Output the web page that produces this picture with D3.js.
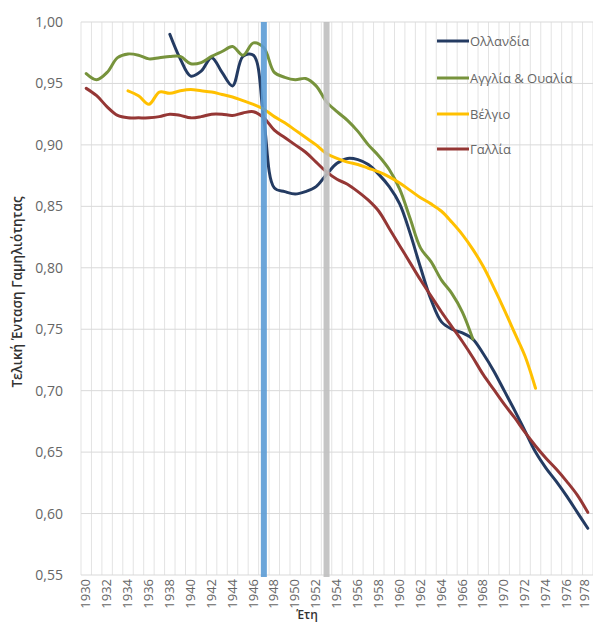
<!DOCTYPE html>
<html><head><meta charset="utf-8">
<script src="https://cdn.jsdelivr.net/npm/d3@7"></script>
<style>body{margin:0;background:#fff;}svg{display:block;font-family:"Open Sans","Noto Sans",sans-serif;}</style>
</head><body>
<script>
const years = [1930,1931,1932,1933,1934,1935,1936,1937,1938,1939,1940,1941,1942,1943,1944,1945,1946,1947,1948,1949,1950,1951,1952,1953,1954,1955,1956,1957,1958,1959,1960,1961,1962,1963,1964,1965,1966,1967,1968,1969,1970,1971,1972,1973,1974,1975,1976,1977,1978];
const xLabels = [1930,1932,1934,1936,1938,1940,1942,1944,1946,1948,1950,1952,1954,1956,1958,1960,1962,1964,1966,1968,1970,1972,1974,1976,1978];
const yTicks = [0.55,0.60,0.65,0.70,0.75,0.80,0.85,0.90,0.95,1.00];
const netherlands = [null,null,null,null,null,null,null,null,
 0.99,0.97,0.956,0.96,0.971,0.959,0.948,0.972,0.973,0.92,
 0.865,0.862,0.86,0.862,0.866,0.876,0.885,0.889,0.888,0.884,
 0.876,0.866,0.852,0.828,0.8,0.774,0.756,0.75,0.747,0.742,
 0.73,0.716,0.7,0.684,0.667,0.65,0.637,0.626,0.614,0.601,0.588];
const englandWales = [0.958,0.953,0.959,0.971,0.974,0.973,0.97,0.971,0.972,0.972,
 0.966,0.967,0.972,0.976,0.98,0.973,0.983,0.979,0.959,0.955,
 0.953,0.954,0.948,0.935,0.927,0.92,0.911,0.9,0.891,0.88,
 0.864,0.84,0.816,0.805,0.79,0.779,0.764,0.742,
 null,null,null,null,null,null,null,null,null,null,null];
const belgium = [null,null,null,null,
 0.944,0.94,0.933,0.943,0.942,0.944,0.945,0.944,0.943,0.941,
 0.939,0.936,0.933,0.929,0.923,0.918,0.912,0.906,0.9,0.893,
 0.889,0.886,0.884,0.881,0.878,0.874,0.869,0.863,0.857,0.852,
 0.846,0.837,0.827,0.815,0.801,0.784,0.766,0.747,0.728,0.702,
 null,null,null,null,null];
const france = [0.946,0.94,0.931,0.924,0.922,0.922,0.922,0.923,0.925,0.924,
 0.922,0.923,0.925,0.925,0.924,0.926,0.927,0.922,0.912,0.906,
 0.9,0.894,0.886,0.878,0.872,0.868,0.862,0.855,0.846,0.832,
 0.818,0.804,0.79,0.777,0.764,0.752,0.74,0.727,0.713,0.701,
 0.689,0.678,0.666,0.655,0.645,0.636,0.626,0.615,0.601];
const seriesNames = ["Ολλανδία","Αγγλία & Ουαλία","Βέλγιο","Γαλλία"];
const seriesColors = ["#243b62","#77933c","#ffc000","#953735"];
const markerYears = [1947,1953];
const markerColors = ["#5b9bd5","#bfbfbf"];

const W=593,H=625;
const svg=d3.select("body").append("svg").attr("width",W).attr("height",H);
const x=d3.scaleBand().domain(years).range([81,593]).padding(0);
const y=d3.scaleLinear().domain([0.55,1]).range([575,22]);
const xc=d=>x(d)+x.bandwidth()/2;

// gridlines
const g=svg.append("g");
g.selectAll("line.v").data(years.concat([null])).join("line")
 .attr("x1",(d,i)=>81+i*x.bandwidth()).attr("x2",(d,i)=>81+i*x.bandwidth())
 .attr("y1",y(1)).attr("y2",y(0.55)).attr("stroke","#e3e3e3").attr("stroke-width",1);
g.selectAll("line.h").data(yTicks).join("line")
 .attr("x1",81).attr("x2",593).attr("y1",d=>y(d)).attr("y2",d=>y(d))
 .attr("stroke","#d9d9d9").attr("stroke-width",1);

// y axis labels
const yAxis=d3.axisLeft(y).tickValues(yTicks).tickSize(0).tickPadding(0)
 .tickFormat(d=>d3.format(".2f")(d).replace(".",","));
svg.append("g").attr("transform","translate(63,0)").call(yAxis)
 .call(a=>a.select(".domain").remove())
 .selectAll("text").attr("fill","#666").style("font-size","14px").style("font-family","'Open Sans',sans-serif");

// x axis labels
const xAxis=d3.axisBottom(x).tickValues(xLabels).tickSize(0).tickPadding(0);
const xa=svg.append("g").attr("transform","translate(0,579)").call(xAxis);
xa.select(".domain").remove();
xa.selectAll("text").attr("fill","#666").style("font-size","13px").style("font-family","'Open Sans',sans-serif")
 .attr("text-anchor","end").attr("dy",(d,i,n)=>i===n.length-1?"0.1em":"0.32em").attr("transform","rotate(-90)").attr("x",0).attr("y",0);

// lines
const allSeries=[netherlands,englandWales,belgium,france];
const line=d3.line().defined(d=>d.v!=null).x(d=>xc(d.year)).y(d=>y(d.v)).curve(d3.curveCatmullRom.alpha(0.5));
allSeries.forEach((s,i)=>{
  const data=years.map((yr,j)=>({year:yr,v:s[j]}));
  svg.append("path").datum(data).attr("d",line).attr("fill","none")
   .attr("stroke",seriesColors[i]).attr("stroke-width",3).attr("stroke-linejoin","round").attr("stroke-linecap","round");
});

// vertical marker bars
markerYears.forEach((yr,i)=>{
  svg.append("rect").attr("x",xc(yr)-3).attr("width",6).attr("y",y(1)).attr("height",577-y(1))
   .attr("fill",markerColors[i]).attr("opacity",0.9);
});

// legend
const legY=[41,78,114,149];
seriesNames.forEach((n,i)=>{
  svg.append("line").attr("x1",437).attr("x2",469).attr("y1",legY[i]).attr("y2",legY[i])
   .attr("stroke",seriesColors[i]).attr("stroke-width",3);
  svg.append("text").attr("x",470).attr("y",legY[i]).attr("dy","0.35em").attr("fill","#666")
   .style("font-size","13px").text(n);
});

// axis titles
svg.append("text").attr("transform","translate(22,292) rotate(-90)").attr("text-anchor","middle")
 .attr("fill","#333").style("font-size","13.5px").style("font-weight","600").text("Τελική Ένταση Γαμηλιότητας");
svg.append("text").attr("x",307).attr("y",619).attr("text-anchor","middle")
 .attr("fill","#333").style("font-size","12px").style("font-weight","600").text("Έτη");
</script>
</body></html>
